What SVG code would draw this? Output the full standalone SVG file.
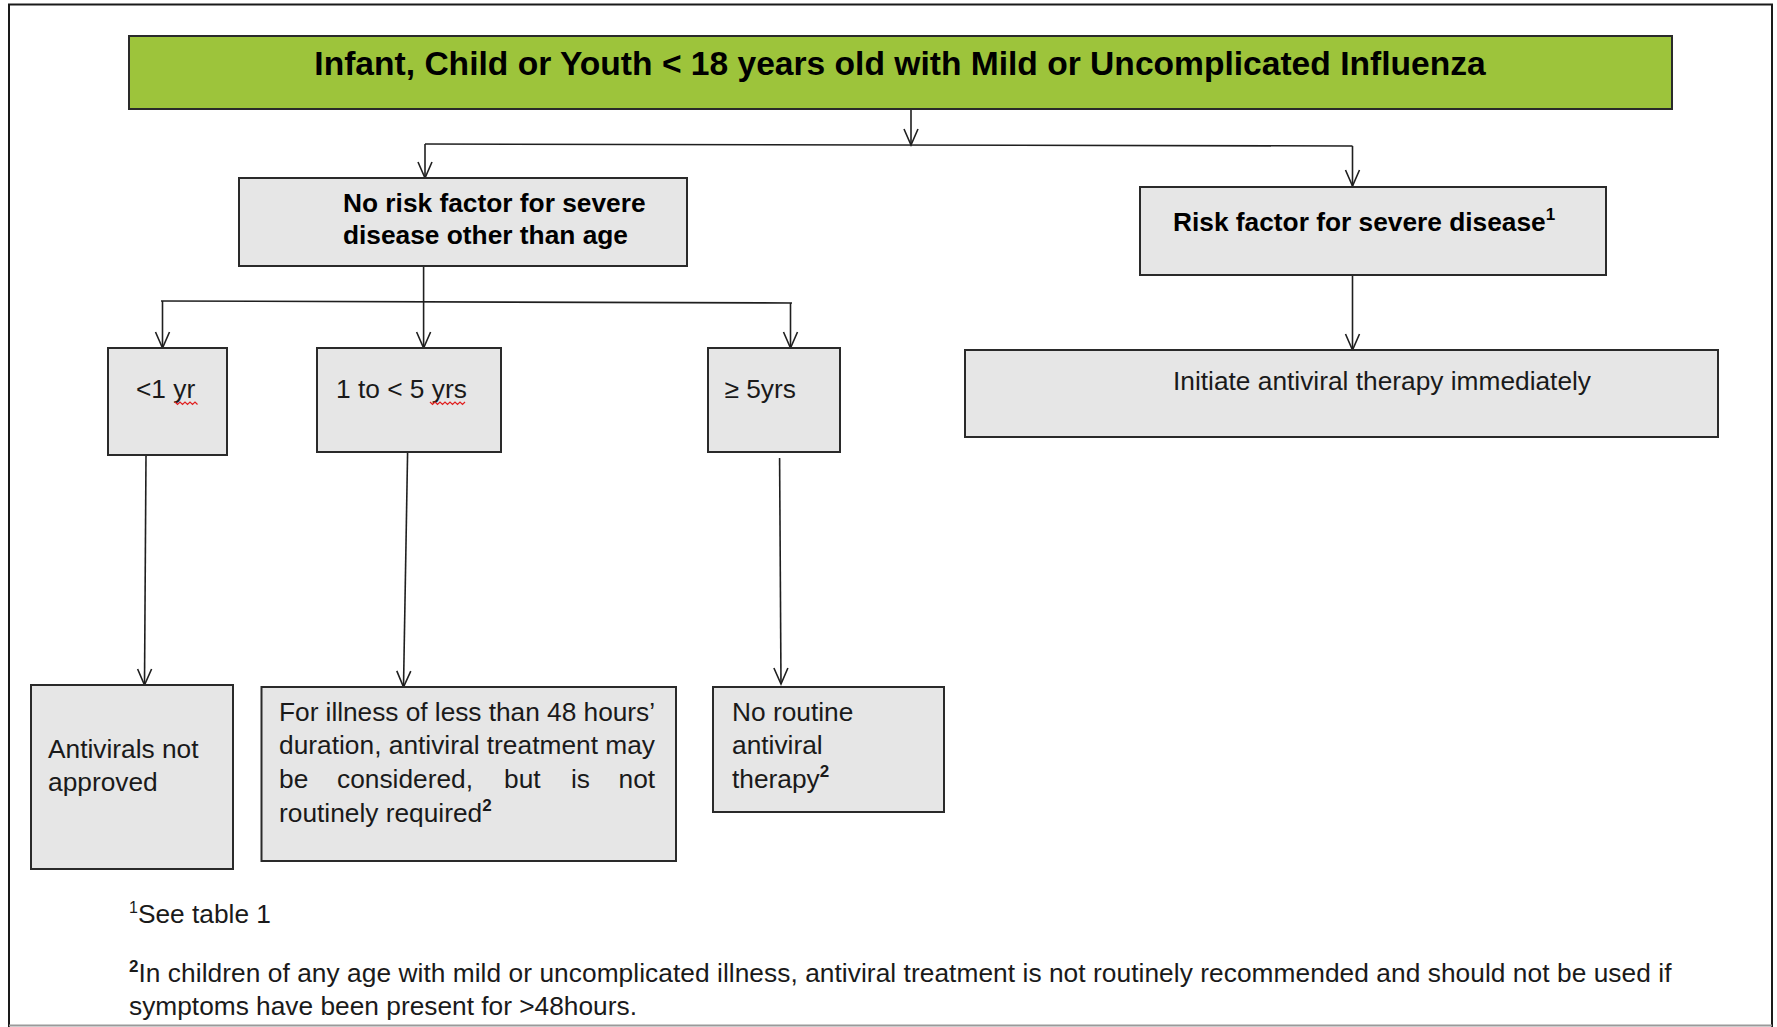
<svg xmlns="http://www.w3.org/2000/svg" width="1777" height="1027" viewBox="0 0 1777 1027">
  <style>
    .frame { fill: #ffffff; stroke: #1a1a1a; stroke-width: 2; }
    .box { fill: #e6e6e6; stroke: #2a2a2a; stroke-width: 2; }
    .green { fill: #9dc43b; stroke: #2a2a2a; stroke-width: 2; }
    .t { font-family: "Liberation Sans", Arial, sans-serif; font-size: 26.3px; fill: #1a1a1a; }
    .b { font-weight: bold; fill: #000; }
    .title { font-family: "Liberation Sans", Arial, sans-serif; font-size: 33.6px; font-weight: bold; fill: #000; }
    .sup { font-size: 17px; font-weight: bold; }
    .conn { fill: none; stroke: #1f1f1f; stroke-width: 1.6; }
    .squig { fill: none; stroke: #e02020; stroke-width: 1.2; }
  </style>
  <defs>
    <marker id="arr" viewBox="-18 -9 20 18" refX="0" refY="0" markerWidth="20" markerHeight="18" markerUnits="userSpaceOnUse" orient="auto">
      <path d="M-16,-7 L0,0 L-16,7" fill="none" stroke="#1f1f1f" stroke-width="1.6"/>
    </marker>
  </defs>

  <rect x="0" y="0" width="1777" height="1027" fill="#ffffff"/>
  <path d="M9,1027 V4.5 H1772 V1027" fill="none" stroke="#1a1a1a" stroke-width="2"/>
  <line x1="9" y1="1025.5" x2="1772" y2="1025.5" stroke="#9a9a9a" stroke-width="2"/>

  <g id="connectors">
    <path class="conn" d="M911,109 V145" marker-end="url(#arr)"/>
    <path class="conn" d="M425,144 L1352.5,146"/>
    <path class="conn" d="M425,144 V178" marker-end="url(#arr)"/>
    <path class="conn" d="M1352.5,146 V186" marker-end="url(#arr)"/>
    <path class="conn" d="M1352.5,275 V350" marker-end="url(#arr)"/>
    <path class="conn" d="M423.6,266 V348" marker-end="url(#arr)"/>
    <path class="conn" d="M161,301 L792,303"/>
    <path class="conn" d="M162.5,301 V348" marker-end="url(#arr)"/>
    <path class="conn" d="M790.5,303 V348" marker-end="url(#arr)"/>
    <path class="conn" d="M146,455 L144.5,685" marker-end="url(#arr)"/>
    <path class="conn" d="M407.6,452 L403.5,687" marker-end="url(#arr)"/>
    <path class="conn" d="M779.6,458 L781,684" marker-end="url(#arr)"/>
  </g>

  <g id="node-title">
    <rect class="green" x="129" y="36" width="1543" height="73"/>
    <text class="title" x="900" y="75" text-anchor="middle">Infant, Child or Youth &lt; 18 years old with Mild or Uncomplicated Influenza</text>
  </g>

  <g id="node-no-risk">
    <rect class="box" x="239" y="178" width="448" height="88"/>
    <text class="t b" x="343" y="212">No risk factor for severe</text>
    <text class="t b" x="343" y="244">disease other than age</text>
  </g>

  <g id="node-risk">
    <rect class="box" x="1140" y="187" width="466" height="88"/>
    <text class="t b" x="1173" y="231">Risk factor for severe disease<tspan class="sup" dy="-11">1</tspan></text>
  </g>

  <g id="node-initiate">
    <rect class="box" x="965" y="350" width="753" height="87"/>
    <text class="t" x="1173" y="390">Initiate antiviral therapy immediately</text>
  </g>

  <g id="node-lt1">
    <rect class="box" x="108" y="348" width="119" height="107"/>
    <text class="t" x="136" y="398">&lt;1 yr</text>
    <path class="squig" d="M175,402 l2.5,2.5 l2.5,-2.5 l2.5,2.5 l2.5,-2.5 l2.5,2.5 l2.5,-2.5 l2.5,2.5 l2.5,-2.5 l2.5,2.5"/>
  </g>

  <g id="node-1to5">
    <rect class="box" x="317" y="348" width="184" height="104"/>
    <text class="t" x="336" y="398">1 to &lt; 5 yrs</text>
    <path class="squig" d="M430,402 l2.5,2.5 l2.5,-2.5 l2.5,2.5 l2.5,-2.5 l2.5,2.5 l2.5,-2.5 l2.5,2.5 l2.5,-2.5 l2.5,2.5 l2.5,-2.5 l2.5,2.5 l2.5,-2.5 l2.5,2.5 l2.5,-2.5"/>
  </g>

  <g id="node-ge5">
    <rect class="box" x="708" y="348" width="132" height="104"/>
    <text class="t" x="724.5" y="398">≥ 5yrs</text>
  </g>

  <g id="node-not-approved">
    <rect class="box" x="31" y="685" width="202" height="184"/>
    <text class="t" x="48" y="758">Antivirals not</text>
    <text class="t" x="48" y="791">approved</text>
  </g>

  <g id="node-consider">
    <rect class="box" x="261.5" y="687" width="414.5" height="174"/>
    <text class="t" x="279" y="721" textLength="376" lengthAdjust="spacing">For illness of less than 48 hours’</text>
    <text class="t" x="279" y="754" textLength="376" lengthAdjust="spacing">duration, antiviral treatment may</text>
    <text class="t" y="788"><tspan x="279">be</tspan><tspan x="337">considered,</tspan><tspan x="504">but</tspan><tspan x="571">is</tspan><tspan x="618.5">not</tspan></text>
    <text class="t" x="279" y="822">routinely required<tspan class="sup" dy="-11">2</tspan></text>
  </g>

  <g id="node-no-routine">
    <rect class="box" x="713" y="687" width="231" height="125"/>
    <text class="t" x="732" y="721">No routine</text>
    <text class="t" x="732" y="754">antiviral</text>
    <text class="t" x="732" y="788">therapy<tspan class="sup" dy="-11">2</tspan></text>
  </g>

  <g id="footnotes">
    <text class="t" x="129" y="923"><tspan font-size="16" dy="-10">1</tspan><tspan dy="10">See table 1</tspan></text>
    <text class="t" x="129" y="982"><tspan class="sup" dy="-10">2</tspan><tspan dy="10" textLength="1533" lengthAdjust="spacing">In children of any age with mild or uncomplicated illness, antiviral treatment is not routinely recommended and should not be used if</tspan></text>
    <text class="t" x="129" y="1015">symptoms have been present for &gt;48hours.</text>
  </g>
</svg>
